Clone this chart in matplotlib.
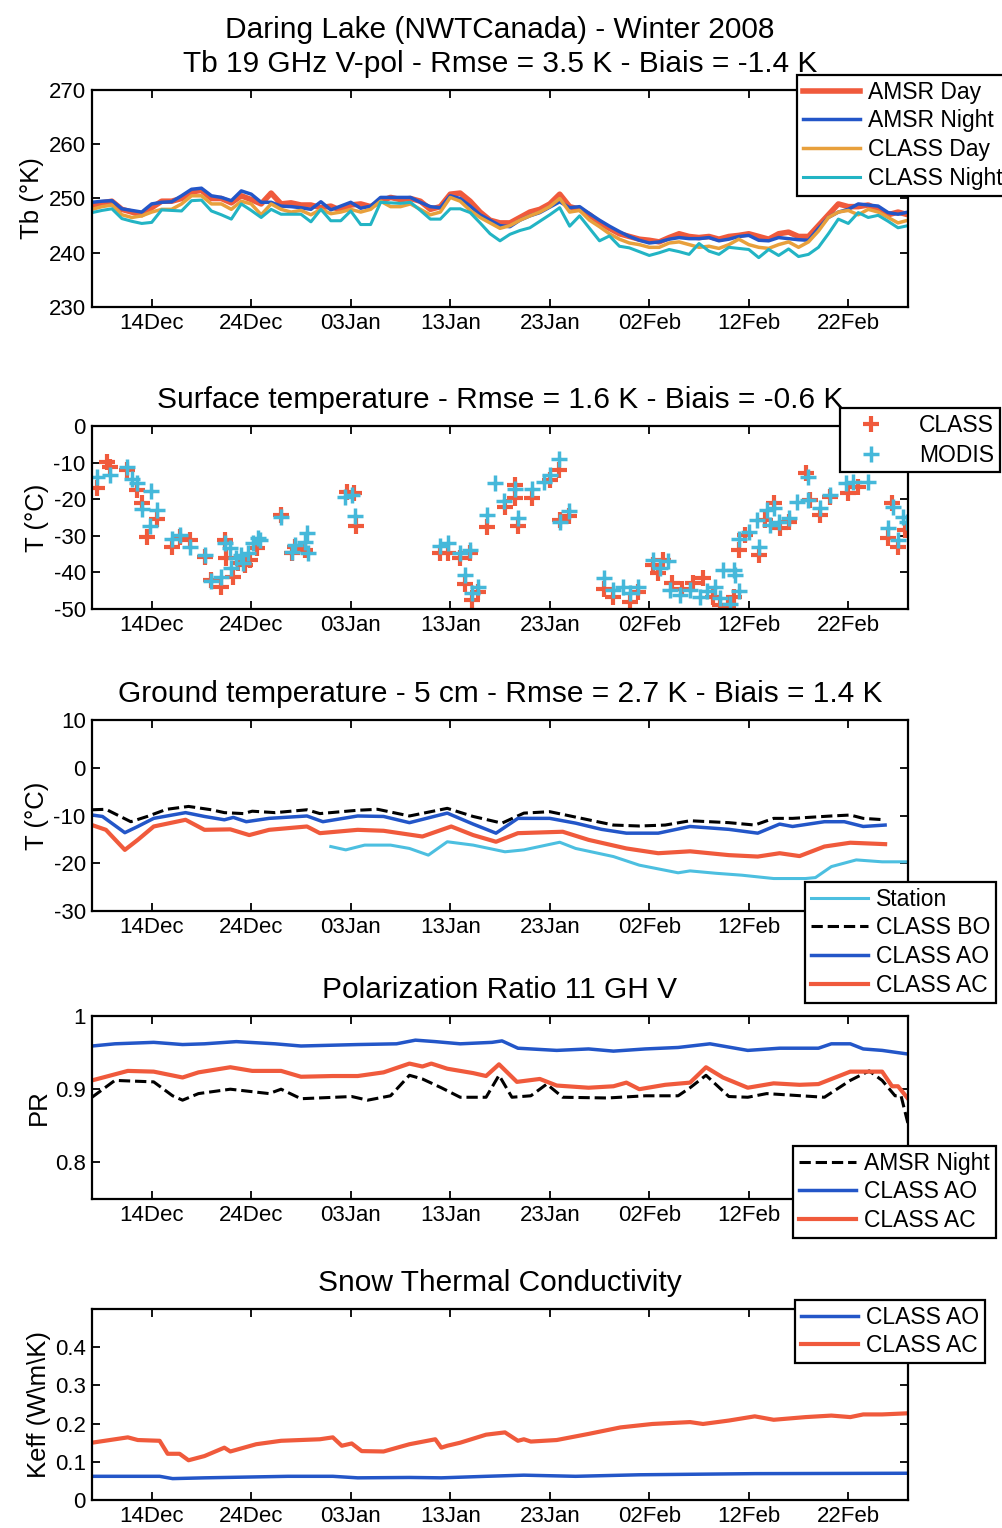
import datetime
import matplotlib
matplotlib.use('Agg')
import matplotlib.pyplot as plt
import matplotlib.dates as mdates
import numpy as np

plt.rcParams['font.family'] = ['Liberation Sans', 'DejaVu Sans']
plt.rcParams['axes.unicode_minus'] = False

# day offsets are counted from 08 Dec 2007
start = datetime.datetime(2007, 12, 8)
end = datetime.datetime(2008, 2, 28)
tick_dates = [datetime.datetime(2007, 12, 14), datetime.datetime(2007, 12, 24),
              datetime.datetime(2008, 1, 3), datetime.datetime(2008, 1, 13),
              datetime.datetime(2008, 1, 23), datetime.datetime(2008, 2, 2),
              datetime.datetime(2008, 2, 12), datetime.datetime(2008, 2, 22)]

# ---- panel 1 : Tb 19 GHz V-pol (daily) ----
tb_days = list(range(83))
amsr_day = [248.5, 249.2, 249.5, 248.0, 247.5, 247.0, 248.3, 249.5, 249.5, 250.0,
            251.2, 251.5, 250.0, 250.0, 249.2, 250.5, 249.8, 249.0, 251.0, 249.0,
            249.2, 248.8, 248.8, 248.3, 248.6, 247.8, 248.8, 249.0, 248.5, 249.5,
            250.2, 249.8, 250.0, 249.5, 248.0, 248.5, 250.8, 251.0, 249.5, 247.5,
            246.0, 245.5, 245.5, 246.5, 247.5, 248.0, 249.0, 250.8, 248.5, 248.0,
            247.0, 245.5, 244.5, 243.5, 243.0, 242.5, 242.3, 242.0, 242.8, 243.5,
            243.0, 242.8, 243.0, 242.5, 243.0, 243.2, 243.5, 243.0, 242.5, 243.5,
            243.8, 243.0, 243.0, 245.0, 247.0, 249.0, 248.5, 248.5, 248.8, 248.0,
            247.0, 247.5, 247.0]
amsr_night = [249.3, 249.5, 249.6, 248.1, 247.8, 247.5, 249.0, 249.3, 249.4, 250.5,
              251.7, 251.9, 250.5, 250.2, 249.6, 251.4, 250.8, 249.3, 249.3, 248.6,
              248.5, 248.3, 248.0, 249.4, 247.9, 248.6, 249.3, 248.2, 248.6, 250.2,
              250.2, 250.2, 250.2, 249.3, 248.5, 248.3, 250.5, 250.0, 248.6, 247.0,
              246.0, 245.0, 244.8, 246.0, 246.8, 247.4, 248.4, 249.4, 248.3, 248.5,
              247.2, 246.0, 244.9, 243.9, 243.0, 242.3, 241.8, 242.0, 242.5, 242.8,
              242.6, 242.6, 242.8, 242.2, 242.5, 243.0, 243.2, 242.3, 242.2, 242.8,
              242.6, 242.4, 242.3, 244.5, 246.5, 247.5, 248.0, 249.0, 248.8, 248.6,
              247.4, 247.1, 247.5]
class_day = [248.0, 248.5, 248.8, 247.0, 246.5, 246.8, 247.5, 248.0, 248.0, 249.0,
             250.5, 250.5, 249.0, 249.0, 248.0, 249.5, 249.0, 247.0, 249.0, 248.0,
             247.5, 247.8, 247.0, 248.0, 247.2, 247.5, 248.0, 247.5, 248.0, 249.5,
             248.5, 248.5, 249.0, 248.0, 247.0, 247.5, 250.2, 249.5, 247.8, 246.5,
             245.5, 244.5, 245.0, 246.0, 246.8, 247.5, 248.5, 250.0, 247.5, 247.8,
             246.0, 244.8, 243.5, 242.5, 241.8, 241.5, 241.0, 241.0, 241.8, 242.0,
             241.5, 241.0, 241.2, 240.8, 241.5, 242.5, 241.5, 241.0, 240.8, 241.5,
             242.0, 241.0, 242.0, 244.0, 246.5, 247.5, 247.8, 247.0, 248.0, 247.5,
             246.5, 245.5, 246.0]
class_night = [247.4, 247.8, 248.1, 246.3, 245.8, 245.4, 245.6, 247.9, 247.8, 247.7,
               249.6, 249.7, 247.7, 247.0, 246.2, 249.0, 247.8, 246.5, 248.0, 247.1,
               247.1, 247.1, 245.7, 248.0, 245.9, 245.9, 247.7, 245.2, 245.2, 249.3,
               249.2, 249.1, 249.3, 247.8, 246.2, 246.2, 248.1, 248.1, 247.4, 245.5,
               243.5, 242.2, 243.4, 244.1, 244.6, 245.8, 247.0, 248.3, 244.9, 246.8,
               244.5, 242.2, 243.1, 241.2, 240.9, 240.2, 239.5, 240.0, 240.6, 240.2,
               239.7, 241.7, 240.3, 239.7, 241.0, 240.8, 240.6, 239.1, 240.6, 239.5,
               240.7, 239.3, 239.7, 241.0, 243.5, 246.2, 245.4, 247.4, 246.5, 246.9,
               245.8, 244.6, 245.0]

# ---- panel 2 : surface temperature ----
class_ts_days = [0.5, 1.5, 1.8, 3.5, 4.5, 5.0, 5.5, 6.5, 8.0, 8.8, 9.8, 11.4, 12.0, 13.0, 13.4,
                 13.5, 14.2, 14.7, 15.4, 15.9, 16.6, 19.0, 20.1, 20.4, 21.4, 25.6, 26.3, 26.5,
                 35.0, 35.8, 37.0, 37.5, 38.0, 38.2, 38.8, 39.7, 41.5, 42.5, 42.5, 42.8, 44.2,
                 46.0, 46.9, 47.0, 47.9, 51.5, 52.4, 54.1, 54.9, 56.4, 56.9, 57.4, 58.3, 59.3,
                 60.4, 61.4, 62.4, 63.1, 63.9, 64.5, 65.0, 65.6, 67.0, 67.6, 68.5, 69.1, 70.0,
                 71.8, 72.2, 73.2, 74.2, 76.0, 77.0, 80.0, 80.4, 81.0, 81.7]
class_ts = [-17.0, -9.7, -11.1, -12.0, -17.5, -21.1, -30.2, -25.5, -33.0, -30.2, -31.1, -35.7,
            -42.1, -43.9, -31.1, -36.1, -41.2, -37.5, -38.0, -36.6, -33.4, -24.3, -34.8, -33.0,
            -33.9, -17.9, -18.4, -27.3, -34.6, -34.6, -36.1, -43.1, -34.8, -47.5, -45.3, -27.5,
            -22.0, -16.1, -19.8, -27.3, -19.8, -14.8, -12.0, -25.7, -24.6, -44.4, -46.6, -48.0,
            -45.3, -38.0, -40.3, -36.6, -43.0, -44.4, -43.0, -41.6, -46.6, -48.9, -49.4, -46.6,
            -33.9, -29.8, -35.2, -25.7, -21.1, -27.9, -26.1, -12.9, -20.2, -24.3, -19.3, -18.4,
            -16.6, -30.7, -21.1, -33.0, -28.4]
modis_days = [0.5, 1.8, 3.5, 4.0, 4.5, 5.0, 5.8, 5.9, 6.5, 8.0, 8.8, 9.8, 11.4, 12.0, 13.0, 13.4,
              13.9, 14.0, 14.5, 15.0, 15.2, 15.7, 16.2, 16.7, 16.9, 19.0, 20.1, 20.4, 21.4, 21.6,
              21.7, 25.4, 26.1, 26.4, 35.0, 35.8, 37.0, 37.5, 38.0, 38.2, 38.8, 39.7, 40.5, 41.4,
              42.5, 42.8, 44.2, 45.4, 46.0, 46.9, 47.0, 47.9, 51.5, 52.4, 53.4, 54.1, 54.9, 56.4,
              57.1, 57.9, 58.1, 59.1, 60.1, 61.1, 61.8, 62.6, 63.1, 63.4, 64.1, 64.5, 64.6, 65.0,
              65.0, 66.0, 66.8, 67.0, 67.8, 68.1, 68.5, 69.0, 70.0, 70.8, 72.0, 72.0, 73.2, 74.2,
              75.8, 76.5, 78.0, 80.0, 80.5, 81.0, 81.5, 81.9]
modis_ts = [-14.0, -13.4, -11.1, -14.6, -15.5, -22.7, -27.3, -17.7, -23.0, -31.0, -29.8, -33.0,
            -35.2, -42.3, -41.2, -32.0, -33.4, -38.9, -36.1, -35.2, -37.5, -34.8, -32.1, -30.7,
            -31.1, -24.8, -34.3, -32.5, -31.6, -29.3, -34.8, -19.3, -18.8, -24.6, -32.8, -32.1,
            -34.8, -40.7, -33.9, -45.7, -43.9, -24.3, -15.5, -20.4, -17.3, -25.2, -17.3, -15.2,
            -13.4, -9.1, -26.1, -23.1, -41.6, -44.8, -43.9, -45.7, -43.9, -36.6, -38.9, -37.0,
            -44.8, -46.1, -44.8, -46.6, -45.2, -43.9, -47.1, -39.3, -48.5, -39.3, -40.7, -45.2,
            -31.0, -28.9, -25.7, -33.0, -23.0, -27.0, -22.5, -26.1, -25.0, -20.9, -20.2, -13.8,
            -22.5, -18.9, -15.7, -15.2, -15.2, -28.0, -22.0, -31.1, -24.9, -26.1]

# ---- panel 3 : ground temperature 5 cm ----
station_days = [24.0, 25.5, 27.4, 30.0, 31.9, 33.8, 35.7, 38.3, 41.5, 43.4, 47.0, 48.6, 52.4,
                55.0, 58.9, 60.1, 62.7, 65.3, 68.5, 71.7, 72.7, 74.3, 76.8, 79.4, 82.0]
station_tg = [-16.5, -17.2, -16.2, -16.2, -16.9, -18.3, -15.5, -16.2, -17.6, -17.2, -15.6, -16.9,
              -18.6, -20.4, -22.0, -21.6, -22.1, -22.5, -23.2, -23.2, -23.0, -20.7, -19.3, -19.7,
              -19.7]
bo_days = [0, 1.4, 3.9, 5.55, 7.5, 9.7, 12.0, 13.3, 15.2, 16.1, 18.4, 21.6, 22.9, 26.7, 28.7,
           31.9, 35.7, 38.3, 41.2, 43.4, 46.0, 49.2, 52.4, 55.0, 57.6, 60.1, 64.0, 66.6, 68.5,
           70.4, 74.3, 76.2, 77.5, 79.7]
bo_tg = [-8.8, -8.7, -11.3, -10.2, -8.7, -8.1, -8.8, -9.4, -9.6, -9.1, -9.4, -8.8, -9.6, -8.9,
         -8.7, -10.1, -8.5, -10.2, -11.6, -9.5, -9.2, -10.6, -12.0, -12.2, -12.0, -11.1, -11.5,
         -12.0, -10.6, -10.6, -10.1, -9.9, -10.6, -10.9]
ao_days = [0, 1.05, 3.3, 4.6, 6.2, 9.4, 11.3, 13.3, 14.2, 15.5, 17.8, 21.6, 23.2, 26.7, 29.3,
           31.9, 35.7, 38.3, 40.6, 42.8, 46.0, 48.6, 51.2, 53.7, 56.9, 60.1, 64.0, 66.9, 69.1,
           70.4, 73.6, 75.6, 77.5, 79.7]
ao_tg = [-9.9, -10.2, -13.6, -12.3, -10.6, -9.4, -10.2, -10.9, -10.4, -11.3, -10.6, -10.1, -11.3,
         -10.1, -10.2, -11.5, -9.5, -11.8, -13.7, -10.6, -10.6, -11.6, -12.9, -13.7, -13.7, -12.3,
         -12.9, -13.7, -11.8, -12.3, -11.3, -11.3, -12.3, -12.0]
ac_days = [0, 1.4, 3.3, 4.6, 6.2, 9.4, 11.3, 13.9, 15.8, 17.8, 21.6, 22.9, 26.7, 29.3, 33.2,
           36.1, 38.3, 40.6, 42.8, 47.3, 49.9, 53.7, 56.9, 60.1, 64.0, 66.9, 69.1, 71.1, 73.6,
           76.2, 79.7]
ac_tg = [-12.0, -13.0, -17.2, -15.1, -12.3, -10.9, -13.0, -12.9, -14.1, -13.0, -12.3, -13.7,
         -13.0, -13.2, -14.4, -12.3, -14.1, -15.5, -13.7, -13.4, -15.1, -16.9, -17.9, -17.5,
         -18.3, -18.6, -17.9, -18.5, -16.5, -15.7, -16.0]

# ---- panel 4 : polarization ratio 11 GHz V ----
pr_amsr_days = [0, 2.3, 6.2, 8.1, 9.1, 10.7, 13.9, 17.8, 19.0, 21.0, 26.1, 27.7, 30.0, 31.9,
                33.2, 35.1, 37.0, 39.6, 40.9, 42.2, 44.1, 45.7, 47.3, 51.8, 55.6, 58.9, 60.1,
                61.7, 64.0, 65.9, 67.8, 73.6, 76.2, 78.1, 79.4, 80.7, 81.3, 82.0]
pr_amsr = [0.889, 0.912, 0.910, 0.891, 0.885, 0.894, 0.900, 0.894, 0.900, 0.887, 0.890, 0.885,
           0.891, 0.919, 0.914, 0.902, 0.889, 0.889, 0.919, 0.889, 0.891, 0.907, 0.889, 0.888,
           0.891, 0.891, 0.902, 0.919, 0.890, 0.889, 0.894, 0.889, 0.912, 0.925, 0.912, 0.891,
           0.891, 0.853]
pr_ao_days = [0, 2.3, 6.2, 9.1, 11.3, 14.5, 18.4, 21.0, 26.7, 30.6, 32.5, 34.5, 37.0, 40.2,
              41.2, 42.8, 46.7, 49.9, 52.4, 55.6, 58.9, 62.1, 65.9, 69.1, 73.0, 74.3, 76.2,
              77.5, 79.4, 82.0]
pr_ao = [0.959, 0.962, 0.964, 0.961, 0.962, 0.965, 0.962, 0.959, 0.961, 0.962, 0.967, 0.965,
         0.962, 0.964, 0.966, 0.956, 0.953, 0.955, 0.952, 0.955, 0.957, 0.962, 0.953, 0.956,
         0.956, 0.962, 0.962, 0.955, 0.953, 0.948]
pr_ac_days = [0, 3.6, 6.2, 9.1, 10.7, 13.9, 16.1, 19.0, 21.0, 24.2, 26.7, 29.3, 31.9, 33.2,
              34.1, 35.7, 38.3, 39.6, 40.9, 42.7, 45.0, 46.7, 49.9, 52.4, 53.7, 55.0, 57.6,
              60.1, 61.7, 63.4, 65.9, 68.5, 71.1, 73.0, 76.2, 79.4, 80.4, 81.0, 82.0]
pr_ac = [0.912, 0.925, 0.924, 0.916, 0.923, 0.930, 0.925, 0.925, 0.917, 0.918, 0.918, 0.923,
         0.935, 0.931, 0.935, 0.928, 0.922, 0.918, 0.934, 0.910, 0.914, 0.905, 0.902, 0.904,
         0.909, 0.900, 0.906, 0.909, 0.930, 0.916, 0.902, 0.908, 0.906, 0.907, 0.924, 0.924,
         0.904, 0.904, 0.887]

# ---- panel 5 : snow thermal conductivity ----
keff_ao_days = [0, 6.8, 8.1, 11.3, 19.7, 24.2, 26.7, 31.9, 35.1, 39.6, 43.4, 48.6, 55.0, 66.6, 82.0]
keff_ao = [0.062, 0.062, 0.056, 0.058, 0.062, 0.062, 0.058, 0.059, 0.058, 0.062, 0.065, 0.062,
           0.066, 0.069, 0.070]
keff_ac_days = [0, 3.6, 4.6, 6.8, 7.6, 8.8, 9.7, 11.3, 13.3, 13.9, 16.5, 19.0, 22.9, 24.2,
                25.1, 26.1, 27.1, 29.3, 31.9, 34.5, 35.1, 35.7, 37.0, 39.6, 41.5, 42.8, 43.4,
                44.1, 46.7, 49.9, 53.1, 56.3, 60.1, 61.4, 64.0, 66.6, 68.5, 71.7, 74.3, 76.2,
                77.5, 79.4, 82.0]
keff_ac = [0.150, 0.164, 0.157, 0.155, 0.121, 0.121, 0.104, 0.115, 0.137, 0.127, 0.146, 0.155,
           0.159, 0.164, 0.142, 0.148, 0.128, 0.127, 0.146, 0.159, 0.137, 0.142, 0.150, 0.171,
           0.177, 0.155, 0.159, 0.153, 0.157, 0.173, 0.190, 0.199, 0.204, 0.199, 0.208, 0.219,
           0.210, 0.217, 0.221, 0.217, 0.224, 0.224, 0.227]

RED = '#f05a3c'
BLUE = '#2356c8'
ORANGE = '#e8a03c'
CYAN = '#22b4c4'
LCYAN = '#4cbfe0'

base = mdates.date2num(start)


def X(days):
    return base + np.array(days, dtype=float)


W, H = 1003.0, 1528.0


def make_axes(top, bottom):
    return fig.add_axes([92 / W, 1 - bottom / H, 816 / W, (bottom - top) / H])


def style(ax, title, ylabel, hide_last=False):
    ax.set_xlim(mdates.date2num(start), mdates.date2num(end))
    ax.set_xticks([mdates.date2num(d) for d in tick_dates])
    ax.xaxis.set_major_formatter(mdates.DateFormatter('%d%b'))
    ax.tick_params(direction='in', length=6, width=1.3, top=True, right=True,
                   labelsize=16, pad=4.5)
    for s in ax.spines.values():
        s.set_linewidth(1.6)
    ax.set_title(title, fontsize=21.5, pad=13, linespacing=1.25)
    ax.set_ylabel(ylabel, fontsize=18.5, labelpad=3)
    if hide_last:
        # the last date label sits under the legend box
        ax.get_xticklabels()[-1].set_visible(False)


def legend(ax, x0, y0, **kw):
    opts = dict(fontsize=16.5, fancybox=False, edgecolor='black', framealpha=1,
                borderaxespad=0, handlelength=2.5, handletextpad=0.35,
                labelspacing=0.25, borderpad=0.25)
    opts.update(kw)
    lg = ax.legend(loc='upper left', bbox_to_anchor=(x0 / W, 1 - y0 / H),
                   bbox_transform=fig.transFigure, **opts)
    lg.get_frame().set_linewidth(1.6)
    return lg


fig = plt.figure(figsize=(10.03, 15.28), dpi=100)

# panel 1
ax1 = make_axes(90, 307)
ax1.plot(X(tb_days), amsr_day, color=RED, lw=4, label='AMSR Day')
ax1.plot(X(tb_days), amsr_night, color=BLUE, lw=2.5, label='AMSR Night')
ax1.plot(X(tb_days), class_day, color=ORANGE, lw=2.5, label='CLASS Day')
ax1.plot(X(tb_days), class_night, color=CYAN, lw=2.2, label='CLASS Night')
ax1.set_ylim(230, 270)
ax1.set_yticks([230, 240, 250, 260, 270])
style(ax1, 'Daring Lake (NWTCanada) - Winter 2008\n'
      'Tb 19 GHz V-pol - Rmse = 3.5 K - Biais = -1.4 K', 'Tb (°K)')
legend(ax1, 797, 75)

# panel 2
ax2 = make_axes(426, 609)
ax2.plot(X(class_ts_days), class_ts, '+', color=RED, ms=11, mew=3, label='CLASS')
ax2.plot(X(modis_days), modis_ts, '+', color='#45b8da', ms=11, mew=2.5, label='MODIS')
ax2.set_ylim(-50, 0)
ax2.set_yticks([-50, -40, -30, -20, -10, 0])
style(ax2, 'Surface temperature - Rmse = 1.6 K - Biais = -0.6 K', 'T (°C)')
legend(ax2, 840, 408, handlelength=2.2, handletextpad=1.0, labelspacing=0.3)

# panel 3
ax3 = make_axes(720, 911)
ax3.plot(X(station_days), station_tg, color=LCYAN, lw=2.2, label='Station')
ax3.plot(X(bo_days), bo_tg, '--', color='black', lw=2.2, label='CLASS BO')
ax3.plot(X(ao_days), ao_tg, color=BLUE, lw=2.5, label='CLASS AO')
ax3.plot(X(ac_days), ac_tg, color=RED, lw=3, label='CLASS AC')
ax3.set_ylim(-30, 10)
ax3.set_yticks([-30, -20, -10, 0, 10])
style(ax3, 'Ground temperature - 5 cm - Rmse = 2.7 K - Biais = 1.4 K', 'T (°C)', hide_last=True)
legend(ax3, 805, 882)

# panel 4
ax4 = make_axes(1016, 1199)
ax4.plot(X(pr_amsr_days), pr_amsr, '--', color='black', lw=2.2, label='AMSR Night')
ax4.plot(X(pr_ao_days), pr_ao, color=BLUE, lw=2.5, label='CLASS AO')
ax4.plot(X(pr_ac_days), pr_ac, color=RED, lw=3, label='CLASS AC')
ax4.set_ylim(0.75, 1)
ax4.set_yticks([0.8, 0.9, 1])
ax4.set_yticklabels(['0.8', '0.9', '1'])
style(ax4, 'Polarization Ratio 11 GH V', 'PR', hide_last=True)
legend(ax4, 793, 1146)

# panel 5
ax5 = make_axes(1309, 1500)
ax5.plot(X(keff_ao_days), keff_ao, color=BLUE, lw=2.5, label='CLASS AO')
ax5.plot(X(keff_ac_days), keff_ac, color=RED, lw=3, label='CLASS AC')
ax5.set_ylim(0, 0.5)
ax5.set_yticks([0, 0.1, 0.2, 0.3, 0.4])
ax5.set_yticklabels(['0', '0.1', '0.2', '0.3', '0.4'])
style(ax5, 'Snow Thermal Conductivity', 'Keff (W\\m\\K)')
legend(ax5, 795, 1300)

fig.savefig('out.png', dpi=100)
